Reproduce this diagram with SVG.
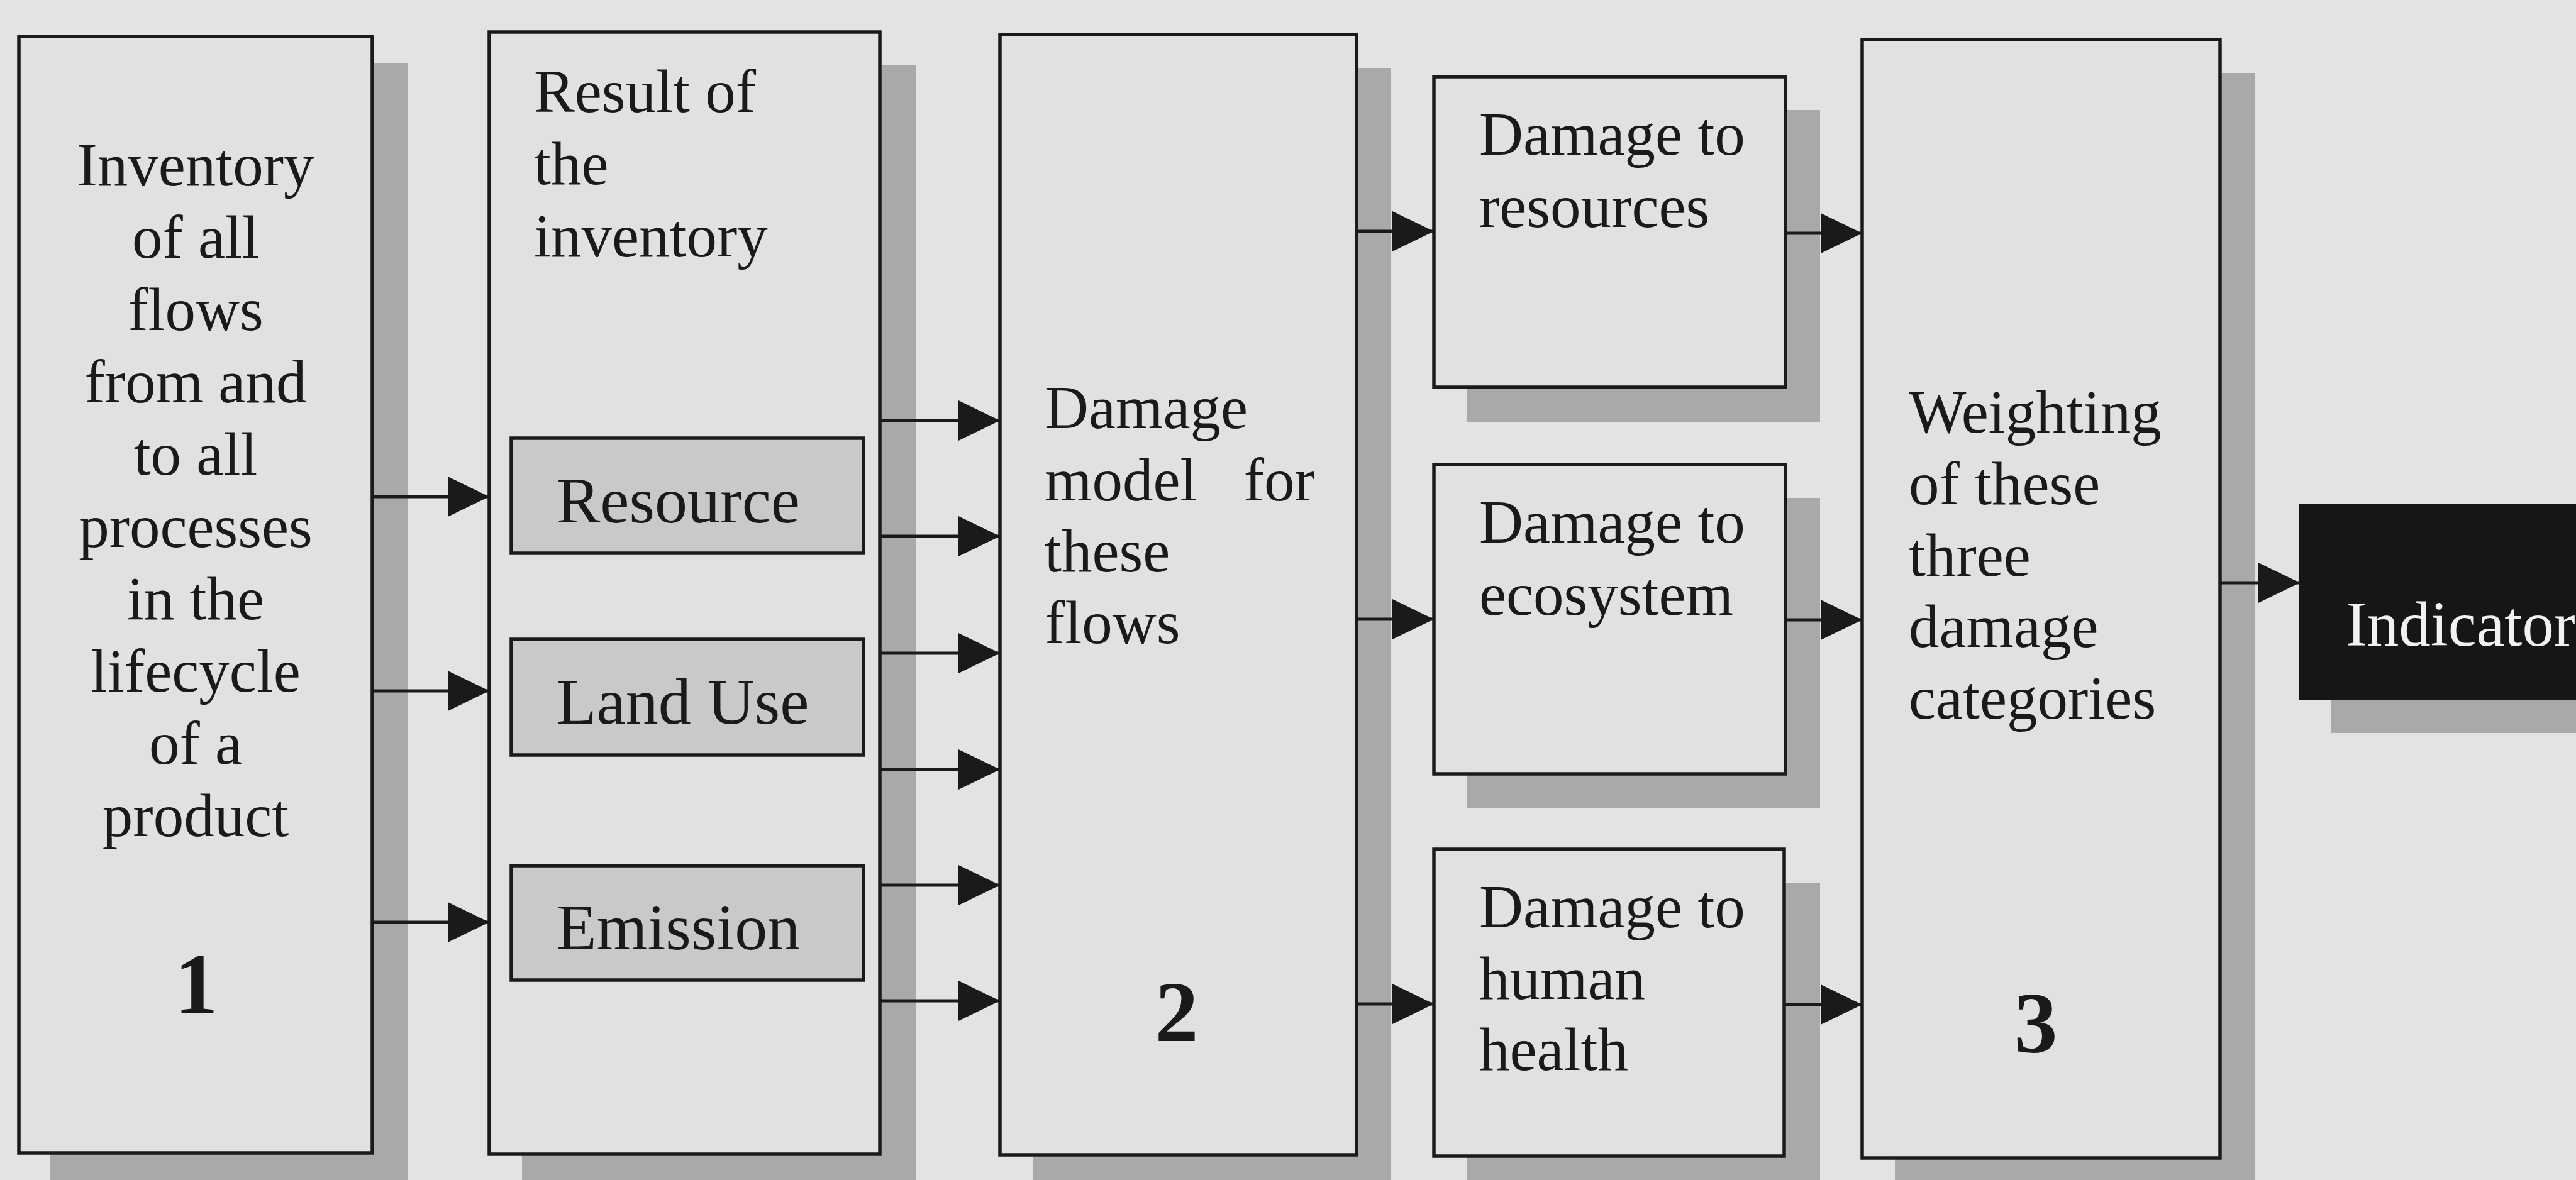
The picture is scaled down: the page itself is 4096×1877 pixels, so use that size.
<svg xmlns="http://www.w3.org/2000/svg" width="4096" height="1877" viewBox="0 0 4096 1877">
<defs>
<marker id="ah" viewBox="0 0 66 64" refX="66" refY="32" markerWidth="66" markerHeight="64" markerUnits="userSpaceOnUse" orient="auto">
<path d="M0,0 L66,32 L0,64 Z" fill="#1a1a1a"/>
</marker>
</defs>
<style>
.bg{fill:#e3e3e3}
.sh{fill:#a9a9a9}
.box{fill:#e1e1e1;stroke:#1a1a1a;stroke-width:5.5}
.sub{fill:#c9c9c9;stroke:#1a1a1a;stroke-width:5.5}
.dark{fill:#161616;stroke:#161616;stroke-width:4}
.t{font-family:"Liberation Serif","Times New Roman",serif;font-size:97px;fill:#1a1a1a}
.ts{font-family:"Liberation Serif","Times New Roman",serif;font-size:104px;fill:#1a1a1a}
.num{font-family:"Liberation Serif","Times New Roman",serif;font-size:138px;font-weight:bold;fill:#1a1a1a;text-anchor:middle}
.ti{font-family:"Liberation Serif","Times New Roman",serif;font-size:101px;fill:#f2f2f2}
.c{text-anchor:middle}
.ar{stroke:#1a1a1a;stroke-width:5;fill:none;marker-end:url(#ah)}
</style>
<rect class="bg" x="0" y="0" width="4096" height="1877"/>

<g id="inventory">
<rect class="sh" x="80" y="101" width="568" height="1800"/>
<rect class="box" x="30" y="58" width="562" height="1776"/>
<text class="t c" x="311" y="295">Inventory</text>
<text class="t c" x="311" y="410">of all</text>
<text class="t c" x="311" y="525">flows</text>
<text class="t c" x="311" y="640">from and</text>
<text class="t c" x="311" y="755">to all</text>
<text class="t c" x="311" y="870">processes</text>
<text class="t c" x="311" y="985">in the</text>
<text class="t c" x="311" y="1100">lifecycle</text>
<text class="t c" x="311" y="1215">of a</text>
<text class="t c" x="311" y="1330">product</text>
<text class="num" x="312" y="1612">1</text>
</g>

<g id="result">
<rect class="sh" x="830" y="103" width="627" height="1800"/>
<rect class="box" x="778" y="51" width="621" height="1785"/>
<text class="t" x="849" y="178">Result of</text>
<text class="t" x="849" y="293">the</text>
<text class="t" x="849" y="408">inventory</text>
</g>

<g id="resource">
<rect class="sub" x="813" y="697" width="560" height="183"/>
<text class="ts" x="885" y="831">Resource</text>
</g>
<g id="landuse">
<rect class="sub" x="813" y="1017" width="560" height="184"/>
<text class="ts" x="885" y="1151">Land Use</text>
</g>
<g id="emission">
<rect class="sub" x="813" y="1377" width="560" height="182"/>
<text class="ts" x="885" y="1510">Emission</text>
</g>

<g id="damagemodel">
<rect class="sh" x="1642" y="108" width="570" height="1800"/>
<rect class="box" x="1590" y="55" width="567" height="1782"/>
<text class="t" x="1661" y="681">Damage</text>
<text class="t" x="1661" y="796" word-spacing="50">model for</text>
<text class="t" x="1661" y="909">these</text>
<text class="t" x="1661" y="1023">flows</text>
<text class="num" x="1871" y="1656">2</text>
</g>

<g id="dmg-resources">
<rect class="sh" x="2333" y="175" width="561" height="497"/>
<rect class="box" x="2280" y="122" width="559" height="494"/>
<text class="t" x="2352" y="246">Damage to</text>
<text class="t" x="2352" y="361">resources</text>
</g>

<g id="dmg-ecosystem">
<rect class="sh" x="2333" y="792" width="561" height="493"/>
<rect class="box" x="2280" y="739" width="559" height="492"/>
<text class="t" x="2352" y="863">Damage to</text>
<text class="t" x="2352" y="978">ecosystem</text>
</g>

<g id="dmg-health">
<rect class="sh" x="2333" y="1405" width="561" height="500"/>
<rect class="box" x="2280" y="1351" width="557" height="488"/>
<text class="t" x="2352" y="1475">Damage to</text>
<text class="t" x="2352" y="1589">human</text>
<text class="t" x="2352" y="1702">health</text>
</g>

<g id="weighting">
<rect class="sh" x="3013" y="116" width="572" height="1800"/>
<rect class="box" x="2961" y="63" width="569" height="1779"/>
<text class="t" x="3035" y="688">Weighting</text>
<text class="t" x="3035" y="802">of these</text>
<text class="t" x="3035" y="916">three</text>
<text class="t" x="3035" y="1029">damage</text>
<text class="t" x="3035" y="1143">categories</text>
<text class="num" x="3237" y="1674">3</text>
</g>

<g id="indicator">
<rect class="sh" x="3707" y="858" width="500" height="308"/>
<rect class="dark" x="3657" y="804" width="500" height="308"/>
<text class="ti" x="3730" y="1027">Indicator</text>
</g>

<g id="connectors">
<line class="ar" x1="592" y1="790" x2="778" y2="790"/>
<line class="ar" x1="592" y1="1099" x2="778" y2="1099"/>
<line class="ar" x1="592" y1="1467" x2="778" y2="1467"/>
<line class="ar" x1="1399" y1="669" x2="1590" y2="669"/>
<line class="ar" x1="1399" y1="853" x2="1590" y2="853"/>
<line class="ar" x1="1399" y1="1039" x2="1590" y2="1039"/>
<line class="ar" x1="1399" y1="1224" x2="1590" y2="1224"/>
<line class="ar" x1="1399" y1="1408" x2="1590" y2="1408"/>
<line class="ar" x1="1399" y1="1592" x2="1590" y2="1592"/>
<line class="ar" x1="2157" y1="368" x2="2280" y2="368"/>
<line class="ar" x1="2157" y1="985" x2="2280" y2="985"/>
<line class="ar" x1="2157" y1="1597" x2="2280" y2="1597"/>
<line class="ar" x1="2839" y1="371" x2="2961" y2="371"/>
<line class="ar" x1="2839" y1="986" x2="2961" y2="986"/>
<line class="ar" x1="2837" y1="1598" x2="2961" y2="1598"/>
<line class="ar" x1="3530" y1="927" x2="3657" y2="927"/>
</g>
</svg>
